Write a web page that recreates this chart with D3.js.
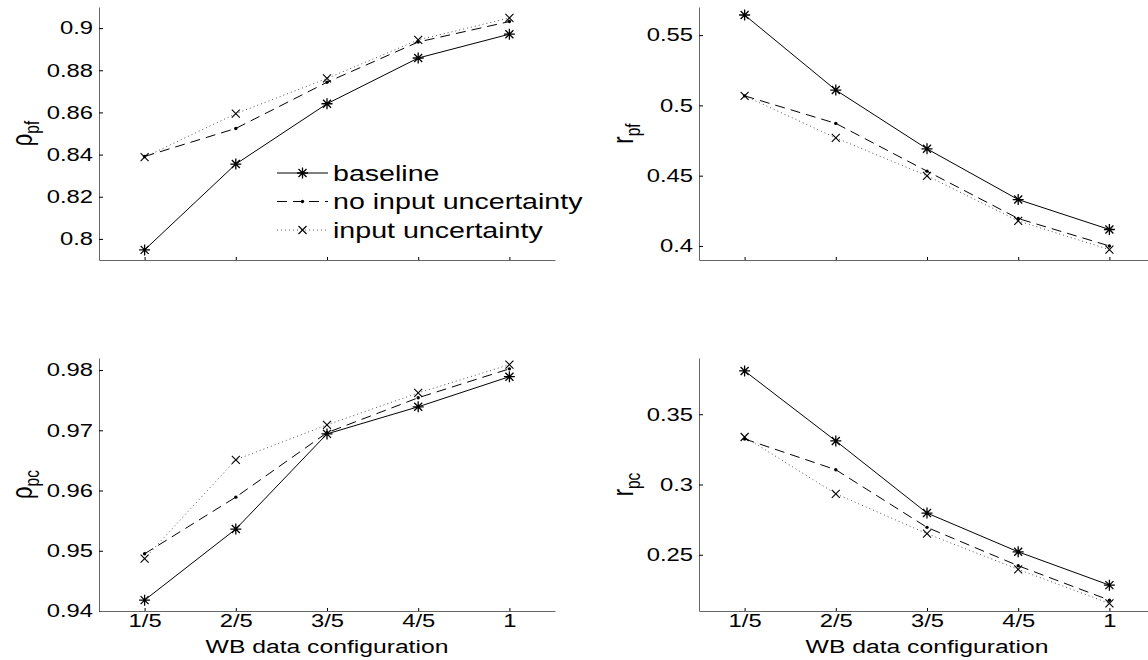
<!DOCTYPE html>
<meta charset="utf-8">
<style>
    body { margin: 0; background: #fff; }
    svg { font-family: "Liberation Sans", Arial, sans-serif; }
    .axis path, .axis line { stroke: #666; }
    .axis .tick line { stroke: #000; }
    .axis text { fill: #000; font-size: 18.3px; }
    .lbl { font-size: 19px; fill: #000; }
    .leg { font-size: 22px; fill: #000; }
</style>
<svg width="1148" height="660"></svg>
<script src="https://d3js.org/d3.v7.min.js"></script>
<script>

    // categories on the x axis
    var configs = ["1/5", "2/5", "3/5", "4/5", "1"];
    var seriesNames = ["baseline", "no input uncertainty", "input uncertainty"];

    // rho_pf
    var rhoPfBaseline = [0.7948, 0.8355, 0.8641, 0.8858, 0.8971];
    var rhoPfNoInput  = [0.8391, 0.8524, 0.8743, 0.8934, 0.9031];
    var rhoPfInput    = [0.8388, 0.8594, 0.8761, 0.8944, 0.9048];
    var rhoPfTicks    = [0.8, 0.82, 0.84, 0.86, 0.88, 0.9];

    // r_pf
    var rPfBaseline = [0.5643, 0.5109, 0.4691, 0.4330, 0.4117];
    var rPfNoInput  = [0.5068, 0.4872, 0.4532, 0.4195, 0.4000];
    var rPfInput    = [0.5068, 0.4769, 0.4499, 0.4178, 0.3974];
    var rPfTicks    = [0.4, 0.45, 0.5, 0.55];

    // rho_pc
    var rhoPcBaseline = [0.9418, 0.9536, 0.9694, 0.9739, 0.9789];
    var rhoPcNoInput  = [0.9495, 0.9589, 0.9696, 0.9754, 0.9802];
    var rhoPcInput    = [0.9487, 0.9651, 0.9709, 0.9762, 0.9809];
    var rhoPcTicks    = [0.94, 0.95, 0.96, 0.97, 0.98];

    // r_pc
    var rPcBaseline = [0.3808, 0.3310, 0.2797, 0.2521, 0.2284];
    var rPcNoInput  = [0.3324, 0.3105, 0.2695, 0.2422, 0.2177];
    var rPcInput    = [0.3338, 0.2934, 0.2650, 0.2396, 0.2154];
    var rPcTicks    = [0.25, 0.3, 0.35];

    var svg = d3.select("svg");
    var SX = 1.3; // the source figure is stretched sideways

    var panels = [
        {sym: "ρ", sub: "pf", x0: 99, top: 7, bottom: 260, dom: [0.79, 0.91], ticks: rhoPfTicks,
         data: [rhoPfBaseline, rhoPfNoInput, rhoPfInput], legend: true, xlab: false, lx: 32},
        {sym: "r", sub: "pf", x0: 699, top: 7, bottom: 260, dom: [0.39, 0.57], ticks: rPfTicks,
         data: [rPfBaseline, rPfNoInput, rPfInput], legend: false, xlab: false, lx: 633},
        {sym: "ρ", sub: "pc", x0: 99, top: 358, bottom: 611, dom: [0.94, 0.982], ticks: rhoPcTicks,
         data: [rhoPcBaseline, rhoPcNoInput, rhoPcInput], legend: false, xlab: true, lx: 32},
        {sym: "r", sub: "pc", x0: 699, top: 358, bottom: 611, dom: [0.21, 0.39], ticks: rPcTicks,
         data: [rPcBaseline, rPcNoInput, rPcInput], legend: false, xlab: true, lx: 633}
    ];

    var styles = [
        {dash: null, color: "#000", marker: "star"},
        {dash: "10,6", color: "#000", marker: "dot"},
        {dash: "1,3", color: "#555", marker: "x"}
    ];

    function marker(g, type, cx, cy) {
        if (type === "star") {
            var r = 5.5, d = 4;
            g.append("path")
                .attr("d", "M" + (cx - r) + "," + cy + "H" + (cx + r) +
                    "M" + cx + "," + (cy - r) + "V" + (cy + r) +
                    "M" + (cx - d) + "," + (cy - d) + "L" + (cx + d) + "," + (cy + d) +
                    "M" + (cx - d) + "," + (cy + d) + "L" + (cx + d) + "," + (cy - d))
                .attr("stroke", "#000").attr("stroke-width", 1.3).attr("fill", "none");
        } else if (type === "x") {
            var q = 4;
            g.append("path")
                .attr("d", "M" + (cx - q) + "," + (cy - q) + "L" + (cx + q) + "," + (cy + q) +
                    "M" + (cx - q) + "," + (cy + q) + "L" + (cx + q) + "," + (cy - q))
                .attr("stroke", "#000").attr("stroke-width", 1.1).attr("fill", "none");
        } else {
            g.append("circle").attr("cx", cx).attr("cy", cy).attr("r", 1.7).attr("fill", "#000");
        }
    }

    panels.forEach(function(p) {
        var x = d3.scaleLinear().domain([0.5, 5.5]).range([p.x0, p.x0 + 456]);
        var y = d3.scaleLinear().domain(p.dom).range([p.bottom, p.top]);
        var g = svg.append("g");

        var yAxis = g.append("g")
            .attr("class", "axis")
            .attr("transform", "translate(" + p.x0 + ",0)")
            .call(d3.axisLeft(y).tickValues(p.ticks).tickSize(-4).tickSizeOuter(0).tickPadding(6)
                .tickFormat(d3.format("~g")));
        yAxis.selectAll("text")
            .attr("x", -6 / SX)
            .attr("transform", "scale(" + SX + ",1)");

        var xAxis = g.append("g")
            .attr("class", "axis")
            .attr("transform", "translate(0," + p.bottom + ")")
            .call(d3.axisBottom(x).tickValues([1, 2, 3, 4, 5]).tickSize(-3).tickSizeOuter(0).tickPadding(3)
                .tickFormat(function(d, i) { return p.xlab ? configs[i] : ""; }));
        xAxis.selectAll("text").attr("transform", "scale(" + SX + ",1)").attr("x", 0);

        p.data.forEach(function(vals, k) {
            var st = styles[k];
            g.append("path")
                .datum(vals)
                .attr("fill", "none")
                .attr("stroke", st.color)
                .attr("stroke-width", 1)
                .attr("stroke-dasharray", st.dash)
                .attr("d", d3.line().x(function(d, i) { return x(i + 1); }).y(function(d) { return y(d); }));
            vals.forEach(function(v, i) { marker(g, st.marker, x(i + 1), y(v)); });
        });

        var ymid = (p.top + p.bottom) / 2;
        var lab = g.append("text")
            .attr("class", "lbl")
            .attr("text-anchor", "middle")
            .attr("transform", "translate(" + p.lx + "," + ymid + ") rotate(-90) scale(1," + SX + ")");
        lab.append("tspan").attr("font-size", "22px").text(p.sym);
        lab.append("tspan").attr("font-size", "15.5px").attr("dy", 5).text(p.sub);

        if (p.xlab) {
            g.append("text")
                .attr("class", "lbl")
                .attr("text-anchor", "middle")
                .attr("transform", "translate(" + (p.x0 + 228) + ",653) scale(" + SX + ",1)")
                .text("WB data configuration");
        }

        if (p.legend) {
            var lg = g.append("g");
            seriesNames.forEach(function(name, k) {
                var st = styles[k];
                var ly = 173 + k * 28.5;
                lg.append("line")
                    .attr("x1", 277).attr("x2", 328).attr("y1", ly).attr("y2", ly)
                    .attr("stroke", st.color).attr("stroke-width", 1)
                    .attr("stroke-dasharray", st.dash);
                marker(lg, st.marker, 302.5, ly);
                lg.append("text")
                    .attr("class", "leg")
                    .attr("dy", "0.35em")
                    .attr("transform", "translate(333," + ly + ") scale(" + SX + ",1)")
                    .text(name);
            });
        }
    });

</script>
